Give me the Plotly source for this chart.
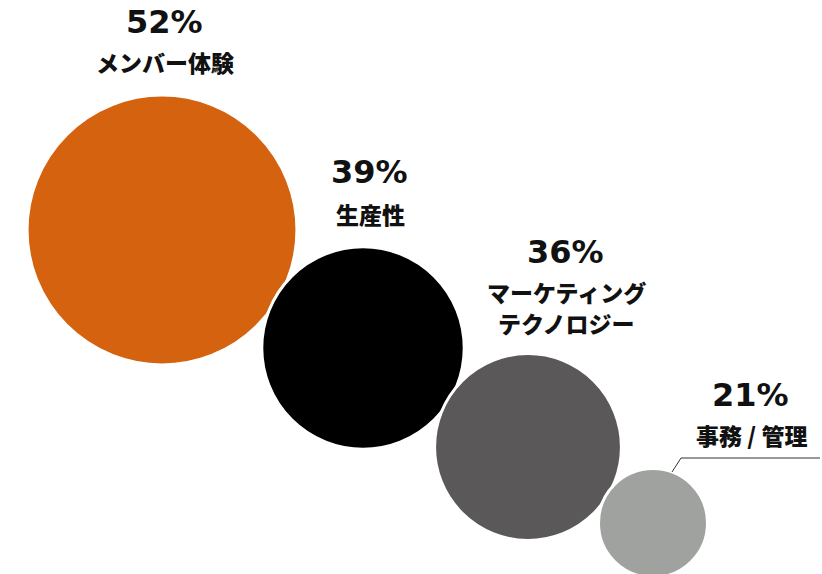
import plotly.graph_objects as go

# Data
categories = ["メンバー体験", "生産性", "マーケティング\nテクノロジー", "事務 / 管理"]
values = [52, 39, 36, 21]
pct_labels = [f"{v}%" for v in values]
colors = ["#D4620F", "#000000", "#5A5858", "#A0A2A0"]

# Layout positions (pixel-space of the 822x574 canvas)
cx = [162, 363, 528, 653]
cy = [230, 348, 447, 523]
pct_x = [164, 369, 565, 750]
pct_y = [22, 172, 252, 395]
lab_y = [62, 214, 292, 435]
line_gap = 31
px_per_unit = 5.19  # diameter in px per percentage point

fig = go.Figure()
fig.add_trace(go.Scatter(
    x=cx, y=cy, mode="markers",
    marker=dict(size=[v * px_per_unit for v in values], sizemode="diameter",
                color=colors, opacity=1, line=dict(color="white", width=3)),
    hoverinfo="skip", showlegend=False,
))

for i in range(len(values)):
    fig.add_annotation(x=pct_x[i], y=pct_y[i], text=pct_labels[i], showarrow=False,
                       xanchor="center", yanchor="middle",
                       font=dict(family="DejaVu Sans", size=32, color="#111", weight="bold"))
    for j, line in enumerate(categories[i].split("\n")):
        fig.add_annotation(x=pct_x[i] + 1, y=lab_y[i] + j * line_gap, text=line, showarrow=False,
                           xanchor="center", yanchor="middle",
                           font=dict(family="Noto Sans CJK JP", size=23, color="#111", weight=900))

# leader line for the small bubble
fig.add_shape(type="path", path="M 672 472 L 681 458 L 820 458",
              line=dict(color="#333", width=1), layer="above")

fig.update_layout(
    width=822, height=574, margin=dict(l=0, r=0, t=0, b=0),
    paper_bgcolor="white", plot_bgcolor="white",
    xaxis=dict(range=[0, 822], visible=False, fixedrange=True),
    yaxis=dict(range=[574, 0], visible=False, fixedrange=True),
)
fig.write_html("out.html")
